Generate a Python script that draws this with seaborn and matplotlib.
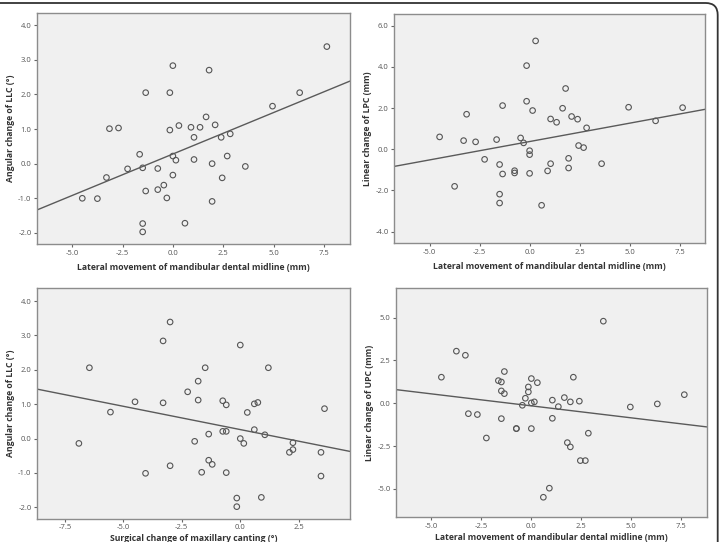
import matplotlib
matplotlib.use("Agg")
import matplotlib.pyplot as plt
from matplotlib.patches import FancyBboxPatch
from matplotlib.ticker import FormatStrFormatter
import seaborn as sns
import pandas as pd

# ---- data ----
# Panel A: midline movement vs angular change of LLC
midline_a = [-3.15, -2.7, -1.35, -0.15, 0.0, -0.15, 0.3, 0.9, 1.35, 1.65, 1.8, 2.1, 1.05, 2.4, 2.85, 4.95, 6.3, 7.65,
             -1.65, 0.0, 0.15, 1.05, 1.95, 2.7, 3.6, -2.25, -1.5, -0.75, -3.3, 0.0, 2.45, -0.45, -0.75, -1.35,
             -4.5, -3.75, -0.3, 1.95, -1.5, 0.6, -1.5]
llc_angle_a = [1.01, 1.03, 2.05, 2.05, 2.83, 0.97, 1.10, 1.05, 1.05, 1.35, 2.70, 1.12, 0.76, 0.76, 0.86, 1.66, 2.05, 3.38,
               0.27, 0.22, 0.10, 0.12, 0.0, 0.22, -0.08, -0.15, -0.12, -0.14, -0.40, -0.33, -0.41, -0.62, -0.75, -0.79,
               -1.0, -1.01, -0.99, -1.09, -1.73, -1.72, -1.97]

# Panel B: midline movement vs linear change of LPC
midline_b = [-4.5, -3.15, -1.35, -0.15, 0.3, -0.15, 0.15, 1.05, 1.35, 1.65, 1.8, 2.1, 2.4, 2.85, 4.95, 6.3, 7.65,
             -3.3, -2.7, -1.65, -0.45, -0.3, 0.0, 0.0, 2.45, 2.7, -2.25, -1.5, 1.95, 1.05, 3.6, 1.95, -0.75, -0.75,
             -1.35, 0.0, 0.9, -3.75, -1.5, -1.5, 0.6]
lpc_linear_b = [0.60, 1.70, 2.12, 4.06, 5.26, 2.33, 1.88, 1.47, 1.31, 1.99, 2.95, 1.59, 1.46, 1.04, 2.04, 1.38, 2.02,
                0.42, 0.36, 0.47, 0.55, 0.31, -0.07, -0.26, 0.18, 0.08, -0.49, -0.74, -0.44, -0.70, -0.70, -0.91,
                -1.04, -1.15, -1.20, -1.17, -1.05, -1.80, -2.18, -2.61, -2.72]

# Panel C: maxillary canting change vs angular change of LLC
canting_c = [-6.45, -3.3, -3.0, 0.0, -1.5, 1.2, -1.8, -2.25, -4.5, -3.3, -1.8, -0.75, -0.6, 0.6, 0.75, 3.6,
             -5.55, 0.3, -1.35, -0.75, -0.6, 0.6, 1.05, 0.0, 0.15, -1.95, -6.9, 2.25, 2.25, 2.1, 3.45, -1.35, -1.2,
             -3.0, -4.05, -1.65, -0.6, 3.45, -0.15, 0.9, -0.15]
llc_angle_c = [2.06, 2.84, 3.39, 2.72, 2.06, 2.06, 1.67, 1.36, 1.07, 1.04, 1.12, 1.10, 0.98, 1.01, 1.05, 0.87,
               0.77, 0.76, 0.13, 0.21, 0.21, 0.26, 0.11, 0.0, -0.14, -0.08, -0.14, -0.12, -0.32, -0.40, -0.40, -0.63,
               -0.75, -0.79, -1.01, -0.98, -0.99, -1.09, -1.73, -1.71, -1.98]

# Panel D: midline movement vs linear change of UPC
midline_d = [-4.5, -3.75, -3.3, -1.35, -1.65, -1.5, -1.5, -1.35, 0.0, 0.3, -0.15, -0.15, -0.3, 2.1, 3.6, 1.05, 1.65,
             1.95, 2.4, 0.0, 0.15, 7.65, -0.45, 1.35, 4.95, 6.3, -3.15, -2.7, -1.5, 1.05, -0.75, -0.75, 0.0, 2.85,
             -2.25, 1.8, 1.95, 2.45, 2.7, 0.9, 0.6]
upc_linear_d = [1.52, 3.04, 2.80, 1.85, 1.32, 1.24, 0.72, 0.56, 1.44, 1.20, 0.95, 0.66, 0.29, 1.52, 4.79, 0.18, 0.33,
                0.08, 0.12, 0.02, 0.08, 0.50, -0.12, -0.20, -0.22, -0.04, -0.61, -0.66, -0.90, -0.88, -1.48, -1.48,
                -1.48, -1.75, -2.03, -2.30, -2.55, -3.35, -3.35, -4.96, -5.49]

xlab_mid = "Lateral movement of mandibular dental midline (mm)"
xlab_cant = "Surgical change of maxillary canting (°)"
ylab_llc = "Angular change of LLC (°)"
ylab_lpc = "Linear change of LPC (mm)"
ylab_upc = "Linear change of UPC (mm)"

ticks_mid = [-5.0, -2.5, 0.0, 2.5, 5.0, 7.5]
ticks_cant = [-7.5, -5.0, -2.5, 0.0, 2.5]
ticks_llc = [-2.0, -1.0, 0.0, 1.0, 2.0, 3.0, 4.0]
ticks_lpc = [-4.0, -2.0, 0.0, 2.0, 4.0, 6.0]
ticks_upc = [-5.0, -2.5, 0.0, 2.5, 5.0]

# ---- style ----
sns.set_style("ticks")
plt.rcParams["font.family"] = ["Open Sans", "DejaVu Sans"]
plt.rcParams["axes.unicode_minus"] = False

fig = plt.figure(figsize=(7.2, 5.42), dpi=100)

panels = [
    dict(rect=[37/720, 1-244/542, 313/720, 231/542], x=midline_a, y=llc_angle_a, xpad=4.5,
         xlab=xlab_mid, ylab=ylab_llc, xt=ticks_mid, yt=ticks_llc, xlim=(-6.75, 8.8), ylim=(-2.32, 4.35)),
    dict(rect=[394/720, 1-243/542, 311/720, 229.5/542], x=midline_b, y=lpc_linear_b, xpad=4.5,
         xlab=xlab_mid, ylab=ylab_lpc, xt=ticks_mid, yt=ticks_lpc, xlim=(-6.78, 8.77), ylim=(-4.55, 6.59)),
    dict(rect=[37/720, 1-518.7/542, 313/720, 230.4/542], x=canting_c, y=llc_angle_c, xpad=2.0,
         xlab=xlab_cant, ylab=ylab_llc, xt=ticks_cant, yt=ticks_llc, xlim=(-8.69, 4.69), ylim=(-2.33, 4.37)),
    dict(rect=[396/720, 1-517.3/542, 310.7/720, 229/542], x=midline_d, y=upc_linear_d, xpad=2.5,
         xlab=xlab_mid, ylab=ylab_upc, xt=ticks_mid, yt=ticks_upc, xlim=(-6.77, 8.77), ylim=(-6.66, 6.71)),
]

for p in panels:
    ax = fig.add_axes(p["rect"])
    ax.set_facecolor("#f0f0f0")
    ax.set_xlim(*p["xlim"])
    ax.set_ylim(*p["ylim"])
    df = pd.DataFrame({"x": p["x"], "y": p["y"]})
    sns.regplot(data=df, x="x", y="y", ax=ax, ci=None, truncate=False, color="#555555",
                scatter_kws=dict(facecolors="none", edgecolors="#555555", s=16, linewidths=0.8, alpha=1),
                line_kws=dict(color="#5a5a5a", lw=1.0))
    ax.set_xlim(*p["xlim"])
    ax.set_ylim(*p["ylim"])
    ax.set_xticks(p["xt"])
    ax.set_yticks(p["yt"])
    ax.xaxis.set_major_formatter(FormatStrFormatter("%.1f"))
    ax.yaxis.set_major_formatter(FormatStrFormatter("%.1f"))
    for s in ax.spines.values():
        s.set_visible(True)
        s.set_color("#8c8c8c")
        s.set_linewidth(1.0)
    ax.tick_params(axis="both", direction="out", length=2.5, width=0.8, color="#666666",
                   labelsize=5.5, labelcolor="#555555", pad=1.5)
    ax.set_xlabel(p["xlab"], fontsize=6.2, fontweight="bold", color="#333333", labelpad=p["xpad"])
    ax.set_ylabel(p["ylab"], fontsize=6.2, fontweight="bold", color="#333333", labelpad=2)

# outer rounded frame (only top and right edges fall inside the picture)
frame = FancyBboxPatch((-0.3, -0.3), 7.177 + 0.3, 5.39 + 0.3,
                       boxstyle="round,pad=0,rounding_size=0.12",
                       transform=fig.dpi_scale_trans, fill=False, edgecolor="#333333", lw=1.3,
                       clip_on=False)
fig.patches.append(frame)

fig.savefig("out.png", dpi=100, facecolor="white")
